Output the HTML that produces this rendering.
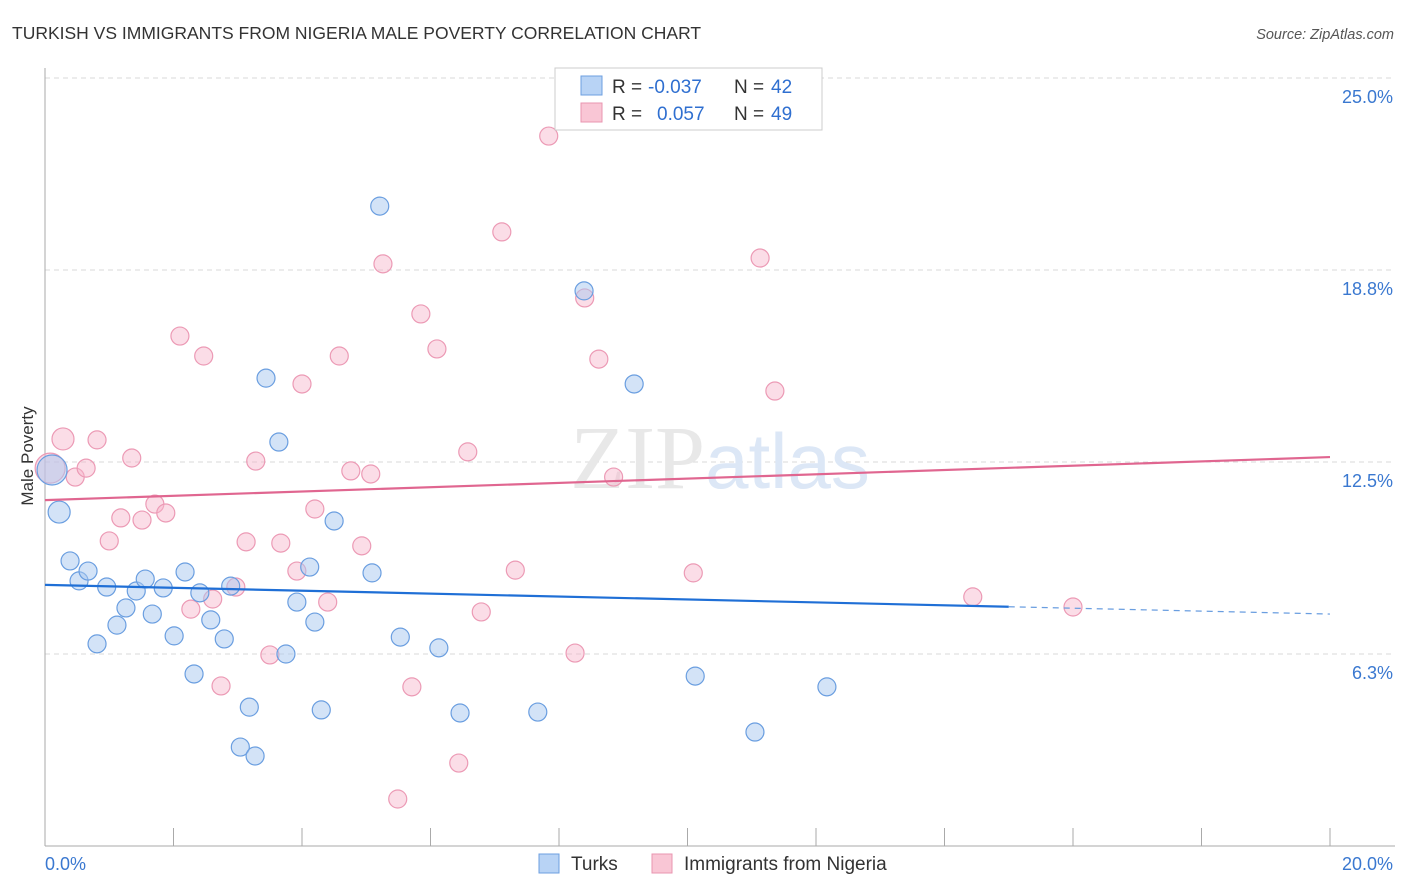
<!DOCTYPE html>
<html><head><meta charset="utf-8"><style>
body{margin:0;background:#fff;font-family:"Liberation Sans",sans-serif}
svg{display:block}
</style></head><body>
<svg id="chart" width="1406" height="892" xmlns="http://www.w3.org/2000/svg">
<text x="12" y="39" font-size="17.5" fill="#333">TURKISH VS IMMIGRANTS FROM NIGERIA MALE POVERTY CORRELATION CHART</text>
<text x="1394" y="39" font-size="14.5" fill="#555" text-anchor="end" font-style="italic">Source: ZipAtlas.com</text>
<g id="grid"></g>
<text x="720" y="488" font-size="90" text-anchor="middle" fill="#e8e8e8" font-family="Liberation Serif,serif">ZIP<tspan fill="#dce7f6" font-family="Liberation Sans,sans-serif" font-size="78">atlas</tspan></text>
<text transform="translate(33,456) rotate(-90)" font-size="17" fill="#333" text-anchor="middle">Male Poverty</text>
<g id="pts"></g>
<g id="lines"></g>
<g>
<rect x="555" y="68" width="267" height="62" fill="#fff" stroke="#ccc"/>
<rect x="581" y="76" width="21" height="19" fill="#b8d3f5" stroke="#6d9fe0"/>
<rect x="581" y="103" width="21" height="19" fill="#f9c6d5" stroke="#e995b0"/>
<text x="612" y="93" font-size="19" fill="#333">R =</text>
<text x="648" y="93" font-size="19" fill="#2f6fd0">-0.037</text>
<text x="734" y="93" font-size="19" fill="#333">N =</text>
<text x="771" y="93" font-size="19" fill="#2f6fd0">42</text>
<text x="612" y="120" font-size="19" fill="#333">R =</text>
<text x="657" y="120" font-size="19" fill="#2f6fd0">0.057</text>
<text x="734" y="120" font-size="19" fill="#333">N =</text>
<text x="771" y="120" font-size="19" fill="#2f6fd0">49</text>
</g>
<g>
<rect x="539" y="854" width="20" height="19" fill="#b8d3f5" stroke="#6d9fe0"/>
<text x="571" y="870" font-size="19" fill="#333">Turks</text>
<rect x="652" y="854" width="20" height="19" fill="#f9c6d5" stroke="#e995b0"/>
<text x="684" y="870" font-size="19" fill="#333">Immigrants from Nigeria</text>
</g>
</svg>
<script>
const turksX=[0.11,0.22,0.39,0.53,0.67,0.81,0.96,1.12,1.26,1.42,1.56,1.67,1.84,2.01,2.18,2.32,2.41,2.58,2.79,2.89,3.04,3.18,3.27,3.44,3.64,3.75,3.92,4.12,4.20,4.30,4.50,5.09,5.21,5.53,6.13,6.46,7.67,8.39,9.17,10.12,11.05,12.17];
const turksY=[12.24,10.87,9.28,8.63,8.95,6.58,8.43,7.19,7.75,8.30,8.69,7.55,8.40,6.84,8.92,5.60,8.24,7.36,6.74,8.46,3.22,4.52,2.93,15.23,13.15,6.25,7.94,9.08,7.29,4.43,10.58,8.89,20.83,6.80,6.45,4.33,4.36,18.07,15.04,5.53,3.71,5.18];
const nigX=[0.08,0.28,0.47,0.64,0.81,1.00,1.18,1.35,1.51,1.71,1.88,2.10,2.27,2.47,2.61,2.74,2.97,3.13,3.28,3.50,3.67,3.92,4.00,4.20,4.40,4.58,4.76,4.93,5.07,5.26,5.49,5.71,5.85,6.10,6.44,6.58,6.79,7.11,7.32,7.84,8.25,8.40,8.62,8.85,10.09,11.13,11.36,14.44,16.00];
const nigY=[12.30,13.25,12.01,12.30,13.22,9.93,10.68,12.63,10.61,11.13,10.84,16.60,7.71,15.95,8.04,5.21,8.43,9.90,12.53,6.22,9.86,8.95,15.04,10.97,7.94,15.95,12.21,9.77,12.11,18.95,1.53,5.18,17.32,16.18,2.70,12.83,7.62,19.99,8.98,23.11,6.28,17.84,15.85,12.01,8.89,19.14,14.81,8.11,7.78];
const yTicks=[25.0,18.8,12.5,6.3];
const yTickVals=[25,18.75,12.5,6.25];
const xTickLabels=["0.0%","20.0%"];
const turksTrend=[8.50,7.55];
const nigTrend=[11.26,12.66];
const X=v=>45+v*64.25, Y=v=>78+(25-v)*30.72;
const NS="http://www.w3.org/2000/svg";
function mk(p,t,a){const e=document.createElementNS(NS,t);for(const k in a)e.setAttribute(k,a[k]);p.appendChild(e);return e;}
const grid=document.getElementById('grid');
yTickVals.forEach((v,i)=>{
 const l=mk(grid,'line',{x1:45,x2:1395,y1:Y(v),y2:Y(v),stroke:'#d8d8d8','stroke-dasharray':'5,4'});
 
 
 const t=mk(grid,'text',{x:1393,y:Y(v)+25,'font-size':18,fill:'#3a78d0','text-anchor':'end'});
 t.textContent=yTicks[i].toFixed(1)+'%';
 
 
});
const ax=mk(grid,'line',{x1:45,x2:45,y1:68,y2:846,stroke:'#aaa'});


const bx=mk(grid,'line',{x1:45,x2:1395,y1:846,y2:846,stroke:'#aaa'});


for(let i=0;i<=10;i++){const tk=mk(grid,'line',{x1:X(i*2),x2:X(i*2),y1:828,y2:846,stroke:'#aaa'});
 
 }
[[0,'start',45],[20,'end',1393]].forEach((d,i)=>{const t=mk(grid,'text',{x:d[2],y:870,'font-size':18,fill:'#3a78d0','text-anchor':d[1]});t.textContent=xTickLabels[i];
 
 });
const pts=document.getElementById('pts');
function rad(i,isN){if(i===0)return 15;if(i===1)return 11;return 9;}
nigX.forEach((x,i)=>{const c=mk(pts,'circle',{cx:X(x),cy:Y(nigY[i]),r:rad(i,1),fill:'rgba(246,180,202,0.45)',stroke:'#ec9ab5','stroke-width':1.2});
 
 });
turksX.forEach((x,i)=>{const c=mk(pts,'circle',{cx:X(x),cy:Y(turksY[i]),r:rad(i,0),fill:'rgba(168,200,240,0.5)',stroke:'#6a9ee0','stroke-width':1.2});
 
 });
const lines=document.getElementById('lines');
const split=15;
const by=v=>turksTrend[0]+(turksTrend[1]-turksTrend[0])*v/20;
const l1=mk(lines,'line',{x1:X(0),y1:Y(turksTrend[0]),x2:X(split),y2:Y(by(split)),stroke:'#1f6fd6','stroke-width':2.2});


const l2=mk(lines,'line',{x1:X(split),y1:Y(by(split)),x2:X(20),y2:Y(turksTrend[1]),stroke:'#6a9ee0','stroke-width':1.2,'stroke-dasharray':'6,5'});


const l3=mk(lines,'line',{x1:X(0),y1:Y(nigTrend[0]),x2:X(20),y2:Y(nigTrend[1]),stroke:'#e06690','stroke-width':2.2});


</script>
</body></html>
